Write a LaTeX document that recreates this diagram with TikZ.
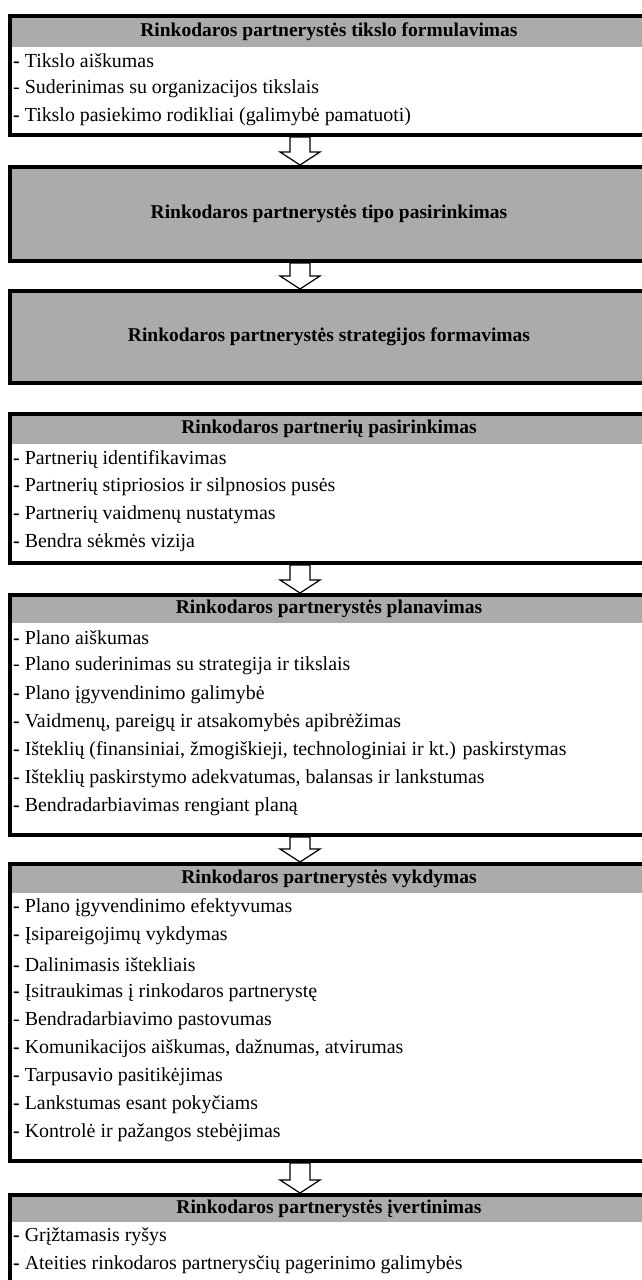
\documentclass[tikz,border=0pt]{standalone}
\usepackage{fontspec}
\setmainfont{Liberation Serif}
\usetikzlibrary{calc}
\definecolor{hdrgray}{RGB}{171,171,171}
\newcommand\bd{\textbf{-}}
% hollow block arrow from one box to the next
\newcommand\flowarrow[2]{%
 \draw[farrow] let \p1=(#1.south), \p2=(#2.north) in
 (290pt,\y1-2pt) -- (290pt,\y2+15pt) -- (280pt,\y2+15pt) -- (300pt,\y2+2pt)
 -- (320pt,\y2+15pt) -- (310pt,\y2+15pt) -- (310pt,\y1-2pt) -- cycle;}

\begin{document}
\begin{tikzpicture}[x=1pt,y=-1pt,font=\fontsize{19.9}{22}\selectfont,
 box/.style={draw,line width=4pt,outer sep=0pt,inner sep=0pt,anchor=north west,minimum width=638},
 hdr/.style={fill=hdrgray,outer sep=0pt,inner sep=0pt,anchor=north west,minimum width=638,font=\fontsize{19.5}{22}\selectfont\bfseries},
 itm/.style={anchor=west,inner sep=0pt},
 farrow/.style={draw=black,fill=white,line width=1.2pt,line join=miter}]
\clip (0,0) rectangle (642,1280);
% goal
\node[hdr,minimum height=31] (h1) at (10,16) {Rinkodaros partnerystės tikslo formulavimas};
\node[box,minimum height=119] (b1) at (10,16) {};
\foreach \t [count=\i] in {\bd{} Tikslo aiškumas, - Suderinimas su organizacijos tikslais,
 \bd{} Tikslo pasiekimo rodikliai (galimybė pamatuoti)}
 \node[itm] (b1-\i) at (13,{61+28*(\i-1)}) {\t};
% type and strategy
\node[box,fill=hdrgray,minimum height=94,font=\fontsize{19.5}{22}\selectfont\bfseries] (b2) at (10,167)
 {Rinkodaros partnerystės tipo pasirinkimas};
\node[box,fill=hdrgray,minimum height=92,font=\fontsize{19.5}{22}\selectfont\bfseries] (b3) at (10,291)
 {Rinkodaros partnerystės strategijos formavimas};
% partners
\node[hdr,minimum height=30] (h4) at (10,414) {Rinkodaros partnerių pasirinkimas};
\node[box,minimum height=149] (b4) at (10,414) {};
\foreach \t [count=\i] in {\bd{} Partnerių identifikavimas, \bd{} Partnerių stipriosios ir silpnosios pusės,
 \bd{} Partnerių vaidmenų nustatymas, \bd{} Bendra sėkmės vizija}
 \node[itm] (b4-\i) at (13,{459+28*(\i-1)}) {\t};
% planning
\node[hdr,minimum height=28] (h5) at (10,595) {Rinkodaros partnerystės planavimas};
\node[box,minimum height=240] (b5) at (10,595) {};
\foreach \t [count=\i] in {\bd{} Plano aiškumas, - Plano suderinimas su strategija ir tikslais,
 \bd{} Plano įgyvendinimo galimybė, {\bd{} Vaidmenų, pareigų ir atsakomybės apibrėžimas},
 {\bd{} Išteklių (finansiniai, žmogiškieji, technologiniai ir kt.) paskirstymas},
 {\bd{} Išteklių paskirstymo adekvatumas, balansas ir lankstumas}, \bd{} Bendradarbiavimas rengiant planą}
 \node[itm] (b5-\i) at (13,{638+28.2*(\i-1)}) {\t};
% execution
\node[hdr,minimum height=29] (h6) at (10,864) {Rinkodaros partnerystės vykdymas};
\node[box,minimum height=297] (b6) at (10,864) {};
\foreach \t [count=\i] in {\bd{} Plano įgyvendinimo efektyvumas, \bd{} Įsipareigojimų vykdymas,
 \bd{} Dalinimasis ištekliais, \bd{} Įsitraukimas į rinkodaros partnerystę, - Bendradarbiavimo pastovumas,
 {\bd{} Komunikacijos aiškumas, dažnumas, atvirumas}, \bd{} Tarpusavio pasitikėjimas,
 \bd{} Lankstumas esant pokyčiams, \bd{} Kontrolė ir pažangos stebėjimas}
 \node[itm] (b6-\i) at (13,{908+28.1*(\i-1)}) {\t};
% evaluation
\node[hdr,minimum height=27] (h7) at (10,1195) {Rinkodaros partnerystės įvertinimas};
\node[box,minimum height=150] (b7) at (10,1195) {};
\foreach \t [count=\i] in {\bd{} Grįžtamasis ryšys, \bd{} Ateities rinkodaros partnerysčių pagerinimo galimybės}
 \node[itm] (b7-\i) at (13,{1237+28*(\i-1)}) {\t};
% arrows
\flowarrow{b1}{b2}
\flowarrow{b2}{b3}
\flowarrow{b4}{b5}
\flowarrow{b5}{b6}
\flowarrow{b6}{b7}
\end{tikzpicture}
\end{document}
